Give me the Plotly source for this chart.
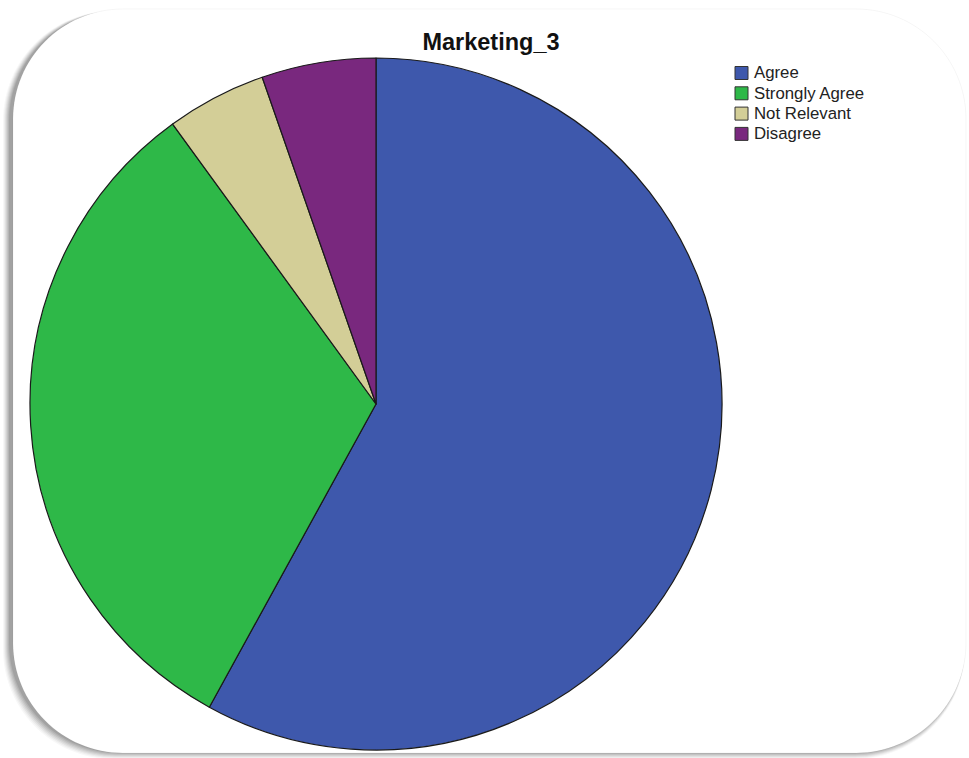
import plotly.graph_objects as go

# Response counts for the survey item
categories = ["Agree", "Strongly Agree", "Not Relevant", "Disagree"]
counts = [87, 48, 7, 8]
colors = ["#3E58AC", "#2EB848", "#D3CE97", "#79287E"]

W, H = 969, 758
FONT = "Liberation Sans, Arial, sans-serif"


def px(x, y):
    """Convert pixel coordinates (top-left origin) to paper coordinates."""
    return x / W, 1 - y / H


def rounded_rect_path(x0, y0, x1, y1, r):
    k = 0.5523 * r

    def P(x, y):
        a, b = px(x, y)
        return f"{a:.5f},{b:.5f}"

    d = f"M {P(x0 + r, y0)} L {P(x1 - r, y0)} "
    d += f"C {P(x1 - r + k, y0)} {P(x1, y0 + r - k)} {P(x1, y0 + r)} "
    d += f"L {P(x1, y1 - r)} "
    d += f"C {P(x1, y1 - r + k)} {P(x1 - r + k, y1)} {P(x1 - r, y1)} "
    d += f"L {P(x0 + r, y1)} "
    d += f"C {P(x0 + r - k, y1)} {P(x0, y1 - r + k)} {P(x0, y1 - r)} "
    d += f"L {P(x0, y0 + r)} "
    d += f"C {P(x0, y0 + r - k)} {P(x0 + r - k, y0)} {P(x0 + r, y0)} Z"
    return d


shapes = []
annotations = []

# soft drop shadow, offset toward the lower left
for i, op in enumerate([0.03, 0.04, 0.05, 0.06, 0.07, 0.08, 0.09]):
    off = 8 - i
    shapes.append(dict(
        type="path", xref="paper", yref="paper", layer="below",
        path=rounded_rect_path(13 - off - 2, 9 + 2, 966 - 1, 753 + off - 2, 110),
        fillcolor=f"rgba(0,0,0,{op})", line=dict(width=0),
    ))
# white card
shapes.append(dict(
    type="path", xref="paper", yref="paper", layer="below",
    path=rounded_rect_path(13, 9, 966, 753, 110),
    fillcolor="white", line=dict(color="rgba(0,0,0,0.04)", width=1),
))

# compact legend: square swatch + label per category
LEG_X, LEG_Y, ROW, SW = 735, 73, 20.3, 13
for i, (lab, col) in enumerate(zip(categories, colors)):
    yc = LEG_Y + i * ROW
    x0, y0 = px(LEG_X, yc - SW / 2)
    x1, y1 = px(LEG_X + SW, yc + SW / 2)
    shapes.append(dict(
        type="rect", xref="paper", yref="paper", layer="above",
        x0=x0, x1=x1, y0=y1, y1=y0,
        fillcolor=col, line=dict(color="#333333", width=1),
    ))
    tx, ty = px(LEG_X + SW + 4, yc)
    annotations.append(dict(
        x=tx, y=ty, xref="paper", yref="paper",
        xanchor="left", yanchor="middle", showarrow=False,
        text=lab, font=dict(family=FONT, size=16.8, color="#222222"),
    ))

cx, cy, r = 376, 404, 346
dx0, dy1 = px(cx - 360, cy - r)
dx1, dy0 = px(cx + 360, cy + r)

fig = go.Figure(go.Pie(
    labels=categories,
    values=counts,
    sort=False,
    direction="clockwise",
    rotation=0,
    marker=dict(colors=colors, line=dict(color="#1a1a1a", width=1.2)),
    textinfo="none",
    hoverinfo="label+value+percent",
    domain=dict(x=[dx0, dx1], y=[dy0, dy1]),
    showlegend=False,
))

fig.update_layout(
    width=W, height=H,
    margin=dict(l=0, r=0, t=0, b=0),
    paper_bgcolor="white",
    shapes=shapes,
    annotations=annotations,
    title=dict(
        text="<b>Marketing_3</b>",
        x=491 / W, xanchor="center",
        y=1 - 42 / H, yanchor="middle",
        font=dict(family=FONT, size=23.5, color="#111111"),
    ),
)

fig.write_html("out.html")
